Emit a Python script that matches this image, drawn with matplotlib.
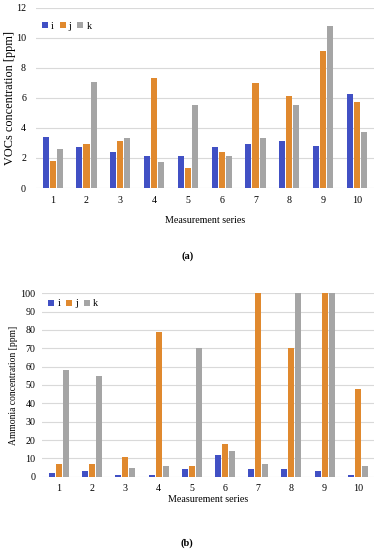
import numpy as np
import matplotlib
matplotlib.use('Agg')
import matplotlib.pyplot as plt

series = [str(n) for n in range(1, 11)]
labels = ['i', 'j', 'k']

voc_i = [3.4, 2.75, 2.4, 2.1, 2.15, 2.7, 2.9, 3.1, 2.8, 6.25]
voc_j = [1.8, 2.95, 3.15, 7.3, 1.3, 2.4, 7.0, 6.1, 9.1, 5.7]
voc_k = [2.6, 7.05, 3.35, 1.7, 5.5, 2.15, 3.3, 5.55, 10.8, 3.7]

nh3_i = [2, 3, 1, 1, 4, 12, 4, 4, 3, 1]
nh3_j = [7, 7, 11, 79, 6, 18, 100, 70, 100, 48]
nh3_k = [58, 55, 5, 6, 70, 14, 7, 100, 100, 6]

colors = ['#4150c4', '#e0892e', '#a5a5a5']

plt.rcParams['font.family'] = ['Liberation Serif', 'DejaVu Serif']
plt.rcParams['font.size'] = 7.2

W, H = 380, 550
fig = plt.figure(figsize=(3.8, 5.5), dpi=100)
# axes boxes in pixels: left, right, top, bottom
ax1 = fig.add_axes([35.8 / W, 1 - 188 / H, 338 / W, (188 - 7.5) / H])
ax2 = fig.add_axes([42.4 / W, 1 - 476.7 / H, 332 / W, (476.7 - 293.3) / H])

def draw(ax, data, ymax, step, ylabel, ylabel_size, ylabel_x, xpad, ypad, xlabelpad, leg_y):
    x = np.arange(len(series))
    for k, (vals, lab) in enumerate(zip(data, labels)):
        ax.bar(x + (k - 1) * 0.21, vals, width=0.18, color=colors[k], label=lab, zorder=3)
    ax.set_xticks(x)
    ax.set_xticklabels(series)
    ax.set_xlim(-0.5, len(series) - 0.5)
    ax.set_ylim(0, ymax)
    ax.set_yticks(np.arange(0, ymax + 0.1, step))
    ax.grid(axis='y', color='#d9d9d9', linewidth=0.8, zorder=0)
    for s in ax.spines.values():
        s.set_visible(False)
    ax.tick_params(axis='x', length=0, pad=xpad)
    ax.tick_params(axis='y', length=0, pad=ypad)
    ax.set_xlabel('Measurement series', labelpad=xlabelpad)
    ax.set_ylabel(ylabel, fontsize=ylabel_size)
    ax.yaxis.set_label_coords(ylabel_x, 0.5)
    ax.legend(loc='upper left', bbox_to_anchor=(0.0, leg_y), ncol=3, frameon=False,
              handlelength=0.6, handleheight=0.6, handletextpad=0.3, columnspacing=0.6,
              borderaxespad=0.2, fontsize=7.2)

draw(ax1, [voc_i, voc_j, voc_k], 12, 2, 'VOCs concentration [ppm]', 8.8,
     -0.058, 6, 7, 8, 0.955)
draw(ax2, [nh3_i, nh3_j, nh3_k], 100, 10, 'Ammonia concentration [ppm]', 6.9,
     -0.074, 5, 5, 2, 1.0)

fig.text(0.493, 1 - 256 / H, '(a)', ha='center', va='center', fontweight='bold', fontsize=7.5)
fig.text(0.493, 1 - 543 / H, '(b)', ha='center', va='center', fontweight='bold', fontsize=7.5)

fig.savefig('out.png', dpi=100)
